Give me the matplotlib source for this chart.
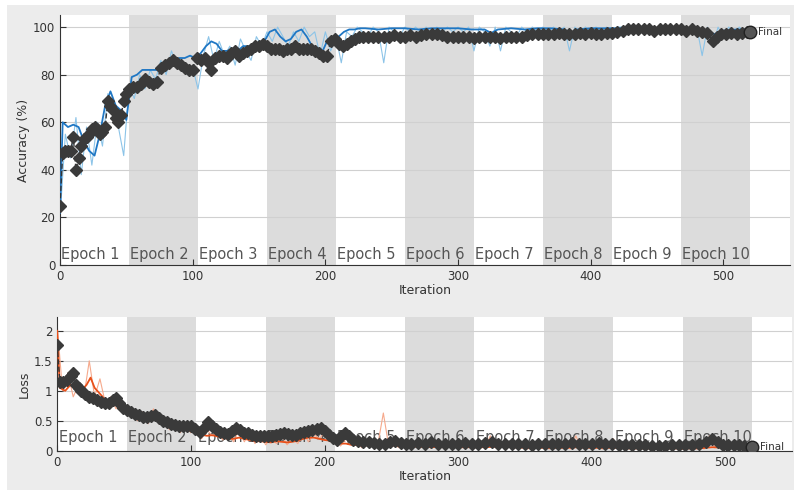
import matplotlib.pyplot as plt
from matplotlib.patches import Rectangle

# training accuracy, raw (every 4 iterations)
acc_raw_it = list(range(0, 521, 4))
acc_raw = [20, 55, 45, 62, 38, 58, 42, 60, 50, 72, 62, 58, 46, 75, 70, 80, 74, 82, 78, 86,
           80, 90, 84, 86, 80, 83, 74, 88, 96, 86, 94, 88, 92, 84, 95, 90, 86, 96, 92, 98,
           94, 100, 96, 92, 98, 94, 100, 96, 98, 88, 98, 90, 96, 85, 98, 96, 100, 98, 96, 100,
           98, 85, 100, 98, 96, 100, 98, 100, 98, 100, 96, 100, 98, 100, 98, 100, 98, 100, 90, 100,
           98, 92, 100, 90, 100, 98, 96, 100, 98, 100, 98, 100, 98, 100, 98, 100, 90, 100, 98, 100,
           98, 100, 98, 100, 98, 100, 100, 98, 100, 98, 100, 100, 98, 100, 98, 100, 100, 98, 100, 98,
           100, 88, 100, 92, 100, 96, 100, 98, 100, 98, 100]

# training accuracy, smoothed
acc_sm_it = [0, 2, 6, 10, 14, 18, 22, 26, 30, 34, 38, 42, 46, 50, 54, 58, 62, 66, 70, 74, 78,
             82, 86, 90, 94, 98, 102, 106, 110, 114, 118, 122, 126, 130, 134, 138, 142, 146, 150,
             154, 158, 162, 166, 170, 174, 178, 182, 186, 190, 194, 198, 202, 206, 210, 214, 218,
             222, 226, 230, 240, 250, 260, 270, 280, 290, 300, 310, 320, 325, 330, 340, 350, 360,
             370, 380, 385, 390, 400, 410, 420, 430, 440, 450, 460, 470, 480, 485, 490, 493, 500,
             510, 520]
acc_sm = [22, 60, 58, 59, 58, 52, 48, 46, 55, 67, 73, 67, 65, 61, 79, 80, 82, 82, 82, 82, 84,
          86, 86, 87, 87, 88, 87, 89, 92, 94, 93, 90, 90, 91, 90, 92, 92, 91, 92,
          94, 98, 99, 96, 94, 95, 98, 99, 96, 92, 89, 90, 95, 94, 96, 98, 99,
          99, 99.5, 99.5, 99, 99.5, 99.5, 99, 99.5, 99.5, 99.5, 99, 99, 97.5, 99, 99.5, 99, 99.5,
          99.5, 99, 97.5, 99, 99.5, 99.5, 99.5, 99.5, 99.5, 99.5, 99.5, 99.5, 99, 96.5, 98, 97, 98.5,
          99, 99]

# validation accuracy
acc_val_it = [0, 2, 4, 6, 8, 10, 12, 14, 16, 18, 20, 22, 24, 26, 28, 30, 32, 34, 36, 38, 40, 42,
              44, 46, 48, 50, 52, 55, 58, 61, 64, 67, 70, 73, 76, 79, 82, 85, 88, 91, 94, 97, 100,
              103, 106, 109, 112, 114, 117, 120, 123, 126, 129, 132, 135, 138, 141, 144, 147, 150,
              153, 156, 159, 162, 165, 168, 171, 174, 177, 180, 183, 186, 189, 192, 195, 198, 201,
              204, 207, 210, 213, 216, 219, 222, 225, 228, 232, 236, 240, 244, 248, 252, 256, 260,
              264, 268, 272, 276, 280, 284, 288, 292, 296, 300, 304, 308, 312, 316, 320, 324, 328,
              332, 336, 340, 344, 348, 352, 356, 360, 364, 368, 372, 376, 380, 384, 388, 392, 396,
              400, 404, 408, 412, 416, 420, 424, 428, 432, 436, 440, 444, 448, 452, 456, 460, 464,
              468, 472, 476, 480, 484, 488, 492, 495, 498, 502, 506, 510, 514, 518, 520]
acc_val = [25, 47, 48, 48, 48, 54, 40, 45, 50, 53, 54, 55, 57, 58, 57, 55, 56, 58, 69, 67, 65, 62,
           60, 63, 69, 72, 74, 75, 75, 76, 78, 77, 76, 77, 83, 84, 85, 86, 85, 84, 83, 82, 82,
           87, 86, 87, 85, 82, 87, 88, 88, 87, 89, 90, 88, 89, 90, 91, 92, 92,
           93, 92, 91, 91, 91, 90, 91, 91, 92, 91, 91, 91, 91, 90, 89, 88, 88,
           94, 95, 93, 92, 93, 94, 95, 96, 96, 96, 96, 96, 96, 96, 96.5, 96, 96,
           96.5, 96, 96.5, 97, 97, 97, 96.5, 96, 96, 96, 96, 96, 95.5, 96, 96, 96, 96,
           95.5, 96, 96, 96, 96, 96.5, 97, 97, 97, 97, 97, 97.5, 97, 97, 97, 97.5, 97,
           97.5, 97, 97, 97.5, 97.5, 98, 98.5, 99, 99, 99, 99, 99, 98.5, 99, 99, 99, 99,
           99, 98.5, 99, 98.5, 98, 97.5, 94, 96, 97, 97, 97.5, 97, 97.5, 98, 98]

# training loss, raw (every 4 iterations)
loss_raw_it = list(range(0, 521, 4))
loss_raw = [2.1, 1.0, 1.3, 0.9, 1.1, 0.9, 1.5, 0.9, 1.2, 0.8, 0.9, 0.7, 0.8, 0.6, 0.7, 0.5, 0.65,
            0.45, 0.7, 0.45, 0.55, 0.35, 0.5, 0.3, 0.45, 0.3, 0.4, 0.2, 0.35, 0.25, 0.3, 0.18, 0.3,
            0.15, 0.35, 0.15, 0.3, 0.12, 0.25, 0.1, 0.22, 0.12, 0.25, 0.1, 0.2, 0.12, 0.3, 0.15,
            0.28, 0.2, 0.3, 0.15, 0.2, 0.08, 0.2, 0.1, 0.15, 0.05, 0.15, 0.06, 0.12, 0.63, 0.08,
            0.1, 0.05, 0.12, 0.04, 0.1, 0.05, 0.12, 0.04, 0.1, 0.05, 0.12, 0.04, 0.1, 0.05, 0.08,
            0.04, 0.1, 0.05, 0.25, 0.05, 0.08, 0.03, 0.1, 0.04, 0.08, 0.03, 0.07, 0.04, 0.1, 0.03,
            0.07, 0.04, 0.08, 0.03, 0.25, 0.04, 0.07, 0.03, 0.06, 0.03, 0.08, 0.2, 0.04, 0.06,
            0.03, 0.07, 0.03, 0.05, 0.03, 0.06, 0.02, 0.05, 0.03, 0.06, 0.02, 0.05, 0.03, 0.06,
            0.03, 0.25, 0.05, 0.1, 0.03, 0.06, 0.03, 0.05, 0.03, 0.04]

# training loss, smoothed
loss_sm_it = [0, 2, 6, 10, 14, 18, 22, 25, 28, 32, 36, 40, 44, 48, 52, 56, 60, 64, 68, 72, 76, 80,
              84, 88, 92, 96, 100, 104, 108, 112, 116, 120, 124, 128, 132, 136, 140, 144, 148, 152,
              156, 160, 164, 168, 172, 176, 180, 184, 188, 192, 196, 200, 204, 208, 212, 216, 220,
              230, 240, 250, 260, 270, 280, 290, 300, 310, 320, 330, 340, 350, 360, 370, 380, 390,
              400, 410, 420, 430, 440, 450, 460, 470, 480, 490, 500, 510, 520]
loss_sm = [2.0, 1.05, 1.0, 1.1, 1.05, 1.0, 1.1, 1.22, 1.05, 0.95, 0.85, 0.8, 0.78, 0.72, 0.68, 0.62,
           0.6, 0.55, 0.55, 0.55, 0.5, 0.45, 0.42, 0.4, 0.38, 0.36, 0.33, 0.3, 0.28, 0.25, 0.26, 0.24,
           0.22, 0.2, 0.2, 0.22, 0.2, 0.18, 0.16, 0.16, 0.15, 0.14, 0.16, 0.15, 0.14, 0.15, 0.17,
           0.2, 0.22, 0.22, 0.2, 0.18, 0.17, 0.14, 0.12, 0.12, 0.1, 0.09, 0.08, 0.09, 0.07, 0.07,
           0.06, 0.07, 0.06, 0.06, 0.06, 0.07, 0.06, 0.05, 0.05, 0.05, 0.05, 0.06, 0.05, 0.05, 0.05,
           0.04, 0.04, 0.04, 0.04, 0.04, 0.04, 0.06, 0.05, 0.04, 0.04]

# validation loss
loss_val_it = [0, 2, 4, 7, 10, 12, 14, 16, 18, 21, 24, 27, 30, 33, 36, 39, 42, 44, 46, 49, 52, 55,
               58, 61, 64, 67, 70, 73, 76, 79, 82, 85, 88, 91, 94, 97, 100, 103, 107, 110, 113, 116,
               119, 122, 125, 128, 131, 134, 137, 140, 143, 146, 149, 152, 155, 158, 161, 164, 167,
               170, 173, 176, 179, 182, 185, 188, 191, 194, 197, 200, 203, 206, 209, 212, 215, 218,
               221, 225, 229, 233, 237, 241, 245, 249, 253, 257, 261, 265, 270, 275, 280, 285, 290,
               295, 300, 305, 310, 315, 320, 325, 330, 335, 340, 345, 350, 355, 360, 365, 370, 375,
               380, 385, 390, 395, 400, 405, 410, 415, 420, 425, 430, 435, 440, 445, 450, 455, 460,
               465, 470, 475, 480, 485, 490, 494, 498, 502, 506, 510, 514, 518, 520]
loss_val = [1.77, 1.15, 1.15, 1.18, 1.24, 1.3, 1.1, 1.05, 0.99, 0.95, 0.9, 0.88, 0.85, 0.82, 0.79,
            0.8, 0.85, 0.88, 0.8, 0.72, 0.68, 0.65, 0.62, 0.6, 0.57, 0.57, 0.58, 0.59, 0.54, 0.5,
            0.48, 0.45, 0.43, 0.42, 0.42, 0.41, 0.41, 0.36, 0.32, 0.38, 0.48, 0.42, 0.36, 0.32, 0.29,
            0.28, 0.33, 0.38, 0.34, 0.3, 0.29, 0.26, 0.24, 0.24, 0.24, 0.25, 0.25, 0.27, 0.28, 0.3,
            0.28, 0.27, 0.27, 0.29, 0.31, 0.33, 0.35, 0.37, 0.38, 0.33, 0.27, 0.22, 0.18, 0.24, 0.3,
            0.24, 0.18, 0.17, 0.155, 0.14, 0.13, 0.12, 0.12, 0.15, 0.16, 0.13, 0.12, 0.12, 0.13,
            0.12, 0.14, 0.12, 0.11, 0.12, 0.12, 0.13, 0.11, 0.12, 0.13, 0.14, 0.12, 0.11, 0.12, 0.12,
            0.11, 0.1, 0.11, 0.12, 0.11, 0.11, 0.12, 0.13, 0.12, 0.11, 0.12, 0.13, 0.12, 0.11, 0.1,
            0.1, 0.09, 0.09, 0.09, 0.08, 0.08, 0.08, 0.09, 0.09, 0.1, 0.1, 0.12, 0.14, 0.2, 0.15,
            0.1, 0.1, 0.09, 0.1, 0.08, 0.07, 0.07]

n_epochs = 10
iters_per_epoch = 52
epoch_labels = [f"Epoch {i}" for i in range(1, n_epochs + 1)]

fig = plt.figure(figsize=(7.94, 4.90), dpi=100, facecolor='white')
# grey panel with a thin white margin on the left and top
fig.patches.append(Rectangle((7 / 794, 0), 1, 1 - 5 / 490, transform=fig.transFigure,
                             facecolor='#ececec', edgecolor='none', zorder=-10))
ax1 = fig.add_axes([0.0756, 0.459, 0.919, 0.51])
ax2 = fig.add_axes([0.072, 0.080, 0.926, 0.273])


def style(ax, ylim, yticks, ylabel):
    ax.set_xlim(0, 550)
    ax.set_ylim(*ylim)
    ax.set_yticks(yticks)
    ax.set_xticks([0, 100, 200, 300, 400, 500])
    for e in range(n_epochs):
        if e % 2 == 1:
            ax.axvspan(e * iters_per_epoch, (e + 1) * iters_per_epoch, color='#dcdcdc', lw=0, zorder=0)
    for y in yticks:
        ax.axhline(y, color='#d0d0d0', lw=0.8, zorder=0.5)
    for s in ['top', 'right']:
        ax.spines[s].set_visible(False)
    for s in ['left', 'bottom']:
        ax.spines[s].set_color('#333333')
    ax.tick_params(direction='in', colors='#333333', labelsize=8.5, length=4)
    ax.set_xlabel('Iteration', fontsize=9, color='#333333', labelpad=1)
    ax.set_ylabel(ylabel, fontsize=9, color='#333333', labelpad=2)


style(ax1, (0, 105), [0, 20, 40, 60, 80, 100], 'Accuracy (%)')
style(ax2, (0, 2.23), [0, 0.5, 1, 1.5, 2], 'Loss')
ax2.set_yticklabels(['0', '0.5', '1', '1.5', '2'])

for e, lab in enumerate(epoch_labels):
    ax1.text(e * iters_per_epoch + 1, 1.5, lab, fontsize=10.5, color='#555555', va='bottom', zorder=1)
    ax2.text(e * iters_per_epoch + 1, 0.22, lab, fontsize=10.5, color='#555555', va='center', zorder=1)

ax1.plot(acc_raw_it, acc_raw, color='#8cc4e8', lw=0.8, zorder=2)
ax1.plot(acc_sm_it, acc_sm, color='#1f77c4', lw=1.3, zorder=3)
ax1.plot(acc_val_it, acc_val, '--', color='#333333', lw=1, marker='D', markersize=6,
         markerfacecolor='#3a3a3a', markeredgecolor='#3a3a3a', zorder=4)
ax1.plot([acc_val_it[-1]], [acc_val[-1]], 'o', markersize=9, markerfacecolor='#555555',
         markeredgecolor='#222222', zorder=5)
ax1.text(acc_val_it[-1] + 6, acc_val[-1], 'Final', fontsize=7.5, color='#333333', va='center')

ax2.plot(loss_raw_it, loss_raw, color='#f6a98c', lw=0.8, zorder=2)
ax2.plot(loss_sm_it, loss_sm, color='#e8501a', lw=1.3, zorder=3)
ax2.plot(loss_val_it, loss_val, '--', color='#333333', lw=1, marker='D', markersize=6,
         markerfacecolor='#3a3a3a', markeredgecolor='#3a3a3a', zorder=4)
ax2.plot([loss_val_it[-1]], [loss_val[-1]], 'o', markersize=9, markerfacecolor='#555555',
         markeredgecolor='#222222', zorder=5)
ax2.text(loss_val_it[-1] + 6, loss_val[-1], 'Final', fontsize=7.5, color='#333333', va='center')

fig.savefig('out.png', dpi=100, facecolor=fig.get_facecolor())
